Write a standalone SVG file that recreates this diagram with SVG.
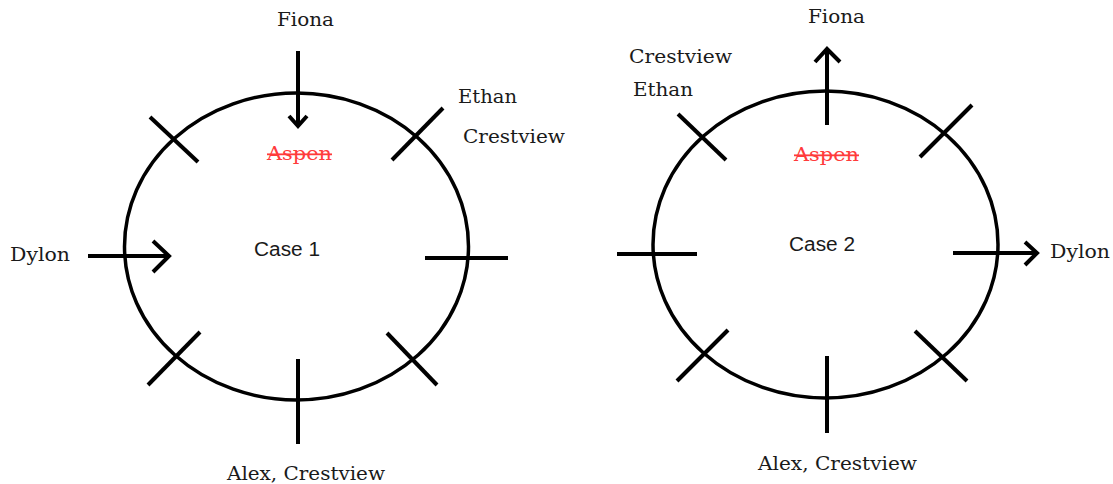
<svg xmlns="http://www.w3.org/2000/svg" width="1113" height="484" viewBox="0 0 1113 484">
<style>
.ring{fill:none;stroke:#000;stroke-width:3.5}
.tick{fill:none;stroke:#000;stroke-width:4;stroke-linecap:butt}
.head{fill:none;stroke:#000;stroke-width:4;stroke-linecap:butt;stroke-linejoin:miter}
.lbl{font-family:"DejaVu Serif","Liberation Serif",serif;font-size:19px;fill:#1a1a1a}
.case{font-family:"Liberation Sans","Open Sans",sans-serif;font-size:20px;fill:#1a1a1a}
.struck{font-family:"DejaVu Serif","Liberation Serif",serif;font-size:18px;fill:#ff3b3b;text-decoration:line-through}
</style>
<rect width="1113" height="484" fill="#fff"/>
<g id="case1">
<ellipse class="ring" cx="296.5" cy="246.5" rx="172" ry="153.5"/>
<text class="case" x="254" y="256" textLength="66" lengthAdjust="spacingAndGlyphs">Case 1</text>
<text class="struck" x="267" y="160" textLength="65" lengthAdjust="spacingAndGlyphs">Aspen</text>
</g>
<g id="case2">
<ellipse class="ring" cx="825.5" cy="244.5" rx="172.5" ry="153.5"/>
<text class="case" x="789" y="251" textLength="66" lengthAdjust="spacingAndGlyphs">Case 2</text>
<text class="struck" x="794" y="161" textLength="65" lengthAdjust="spacingAndGlyphs">Aspen</text>
</g>
<g id="labels1">
<text id="fiona1" class="lbl" x="277" y="26" textLength="57" lengthAdjust="spacingAndGlyphs">Fiona</text>
<text id="ethan1" class="lbl" x="458" y="103" textLength="59" lengthAdjust="spacingAndGlyphs">Ethan</text>
<text id="crest1" class="lbl" x="463" y="143" textLength="102" lengthAdjust="spacingAndGlyphs">Crestview</text>
<text id="dylon1" class="lbl" x="10" y="261" textLength="60" lengthAdjust="spacingAndGlyphs">Dylon</text>
<text id="alex1" class="lbl" x="227" y="480" textLength="158" lengthAdjust="spacingAndGlyphs">Alex, Crestview</text>
</g>
<g id="labels2">
<text id="fiona2" class="lbl" x="808" y="23" textLength="57" lengthAdjust="spacingAndGlyphs">Fiona</text>
<text id="crest2" class="lbl" x="629" y="63" textLength="103" lengthAdjust="spacingAndGlyphs">Crestview</text>
<text id="ethan2" class="lbl" x="633" y="96" textLength="60" lengthAdjust="spacingAndGlyphs">Ethan</text>
<text id="dylon2" class="lbl" x="1050" y="258" textLength="60" lengthAdjust="spacingAndGlyphs">Dylon</text>
<text id="alex2" class="lbl" x="758" y="470" textLength="159" lengthAdjust="spacingAndGlyphs">Alex, Crestview</text>
</g>
<g id="connectors">
<line class="tick" x1="298" y1="51" x2="298" y2="126"/>
<polyline class="head" points="289,116 298,126 307,116"/>
<line class="tick" x1="88" y1="256" x2="169" y2="256"/>
<polyline class="head" points="153,241 169,256 153,272"/>
<line class="tick" x1="150" y1="117" x2="198" y2="162"/>
<line class="tick" x1="443" y1="108" x2="392" y2="160"/>
<line class="tick" x1="425" y1="258" x2="508" y2="258"/>
<line class="tick" x1="200" y1="332" x2="148" y2="385"/>
<line class="tick" x1="298" y1="359" x2="298" y2="444"/>
<line class="tick" x1="387" y1="333" x2="437" y2="385"/>
<line class="tick" x1="827" y1="125" x2="827" y2="49"/>
<polyline class="head" points="815,62 827,49 840,62"/>
<line class="tick" x1="953" y1="253" x2="1037" y2="253"/>
<polyline class="head" points="1025,242 1037,253 1025,265"/>
<line class="tick" x1="678" y1="114" x2="726" y2="160"/>
<line class="tick" x1="972" y1="105" x2="920" y2="157"/>
<line class="tick" x1="617" y1="254" x2="697" y2="254"/>
<line class="tick" x1="728" y1="330" x2="677" y2="381"/>
<line class="tick" x1="827" y1="356" x2="827" y2="433"/>
<line class="tick" x1="915" y1="331" x2="967" y2="381"/>
</g>
</svg>
